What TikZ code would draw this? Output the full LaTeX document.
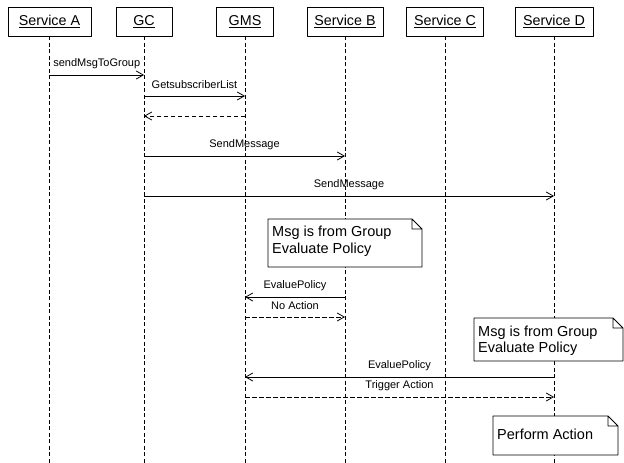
\documentclass[tikz,border=0pt]{standalone}
\usepackage{fontspec}
\setmainfont{Liberation Sans}
\usetikzlibrary{arrows.meta}
\begin{document}
\begin{tikzpicture}[x=1pt, y=-1pt, line join=round, >={Straight Barb[length=7pt,width=8pt]},
	obj/.style={draw, line width=.8pt, minimum height=29pt, inner sep=0pt, font=\fontsize{14.3}{16}\selectfont},
	life/.style={line width=.8pt, dash pattern=on 4pt off 2.5pt},
	msg/.style={->, line width=.8pt},
	ret/.style={->, line width=.8pt, dash pattern=on 4.5pt off 2.5pt},
	lbl/.style={font=\fontsize{11}{13}\selectfont, yshift=11.5pt, inner sep=0pt},
	note/.style={draw, fill=white, line width=.8pt},
	notetext/.style={font=\fontsize{14.5}{16.5}\selectfont, align=left, anchor=west, inner sep=0pt}]
	\useasboundingbox (0,0) rectangle (624,463);
	\def\ytop{21.5} \def\yend{463}
	\coordinate (bot) at (0,\yend);
	\foreach \n/\t/\x/\w in {A/Service A/49.5/83, GC/GC/144/56, GMS/GMS/245/57, B/Service B/345/76, C/Service C/445/77, D/Service D/554/78}
		\node[obj, minimum width=\w pt] (\n) at (\x,\ytop) {\underline{\t}};
	\foreach \n in {A,GC,GMS,B,C,D}
		\draw[life] (\n.south) -- (\n.south |- bot);

	\draw[note] (268,219) -- (412,219) -- (422,229) -- (422,267) -- (268,267) -- cycle (412,219) -- (412,229) -- (422,229);
	\node[notetext] (t1) at (272,241) {Msg is from Group\\Evaluate Policy};
	\draw[note] (474,318) -- (613,318) -- (623,328) -- (623,361) -- (474,361) -- cycle (613,318) -- (613,328) -- (623,328);
	\node[notetext] (t2) at (478,340.5) {Msg is from Group\\Evaluate Policy};
	\draw[note] (493,416) -- (608,416) -- (618,426) -- (618,455) -- (493,455) -- cycle (608,416) -- (608,426) -- (618,426);
	\node[notetext] (t3) at (497,434.5) {Perform Action};

	\foreach \r/\y in {m1/75, m2/96, m3/116, m4/156, m5/196, m6/297, m7/317, m8/377, m9/397}
		\coordinate (\r) at (0,\y);
	\draw[msg] (A |- m1) -- (GC |- m1) node[midway, lbl] (l1) {sendMsgToGroup};
	\draw[msg] (GC |- m2) -- (GMS |- m2) node[midway, lbl] (l2) {GetsubscriberList};
	\draw[ret] (GMS |- m3) -- (GC |- m3);
	\draw[msg] (GC |- m4) -- (B |- m4) node[midway, lbl] (l4) {SendMessage};
	\draw[msg] (GC |- m5) -- (D |- m5) node[midway, lbl] (l5) {SendMessage};
	\draw[msg] (B |- m6) -- (GMS |- m6) node[midway, lbl] (l6) {EvaluePolicy};
	\draw[ret] (GMS |- m7) -- (B |- m7) node[midway, lbl] (l7) {No Action};
	\draw[msg] (D |- m8) -- (GMS |- m8) node[midway, lbl] (l8) {EvaluePolicy};
	\draw[ret] (GMS |- m9) -- (D |- m9) node[midway, lbl] (l9) {Trigger Action};
\end{tikzpicture}
\end{document}
